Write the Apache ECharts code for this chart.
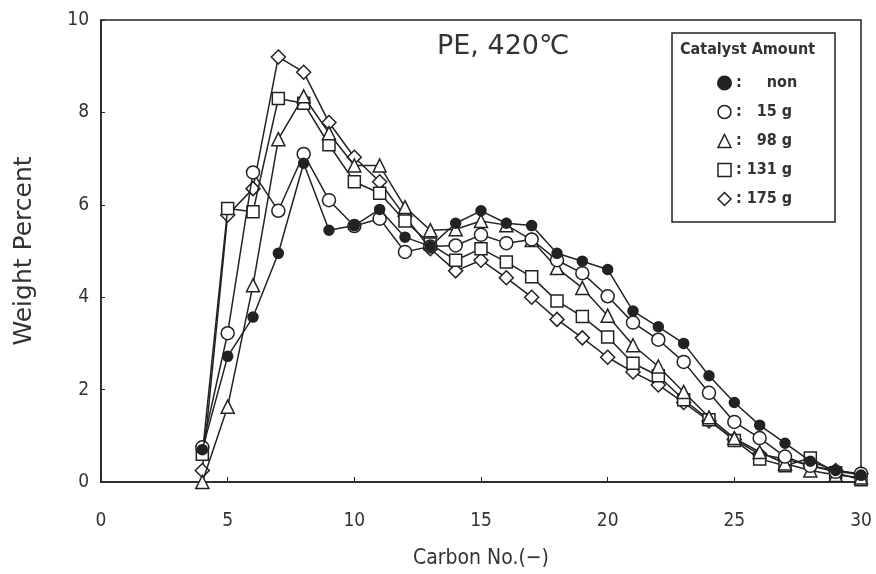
<!DOCTYPE html>
<html>
<head>
<meta charset="utf-8">
<script src="https://cdn.jsdelivr.net/npm/echarts@6/dist/echarts.min.js"></script>
<style>
html,body{margin:0;padding:0;background:#fff;}
#chart{width:876px;height:574px;}
</style>
</head>
<body>
<div id="chart"></div>
<script>
// Carbon numbers
var carbonNo = [4,5,6,7,8,9,10,11,12,13,14,15,16,17,18,19,20,21,22,23,24,25,26,27,28,29,30];
// Weight percent per catalyst amount
var wNon  = [0.70,2.72,3.57,4.95,6.90,5.45,5.55,5.90,5.30,5.10,5.60,5.87,5.60,5.55,4.95,4.78,4.60,3.70,3.36,3.00,2.30,1.72,1.23,0.84,0.45,0.25,0.15];
var w15   = [0.75,3.22,6.70,5.87,7.10,6.10,5.54,5.70,4.98,5.10,5.12,5.35,5.17,5.25,4.80,4.52,4.02,3.45,3.08,2.60,1.93,1.30,0.95,0.55,0.35,0.22,0.18];
var w98   = [0.00,1.63,4.26,7.42,8.35,7.55,6.85,6.85,5.95,5.45,5.47,5.65,5.56,5.24,4.63,4.20,3.60,2.96,2.50,1.95,1.40,0.95,0.65,0.40,0.25,0.15,0.10];
var w131  = [0.60,5.92,5.85,8.30,8.20,7.30,6.50,6.25,5.65,5.15,4.80,5.05,4.76,4.44,3.92,3.58,3.14,2.57,2.30,1.78,1.35,0.90,0.50,0.35,0.52,0.20,0.05];
var w175  = [0.25,5.78,6.35,9.20,8.87,7.78,7.03,6.50,5.75,5.05,4.57,4.80,4.42,4.00,3.52,3.12,2.70,2.38,2.10,1.72,1.32,0.92,0.60,0.50,0.35,0.25,0.18];
var seriesNames = ['non','15 g','98 g','131 g','175 g'];
var xTicks = [0,5,10,15,20,25,30];
var yTicks = [0,2,4,6,8,10];

var font = '"DejaVu Sans Condensed","Liberation Sans Narrow","Liberation Sans",sans-serif';
var font2 = '"DejaVu Sans","Liberation Sans",sans-serif';
function pairs(v){ return carbonNo.map(function(c,i){ return [c, v[i]]; }); }
function mk(name, data, symbol, filled, size, z){
  return {
    name: name, type: 'line', data: pairs(data), symbol: symbol, symbolSize: size,
    z: z, animation: false,
    lineStyle: {color: '#222', width: 1.5},
    itemStyle: {color: filled ? '#222' : '#fff', borderColor: '#222', borderWidth: 1.5}
  };
}
var chart = echarts.init(document.getElementById('chart'));
chart.setOption({
  backgroundColor: '#fff',
  animation: false,
  grid: {left: 101, right: 15, top: 20, bottom: 92, outerBoundsMode: 'none', containLabel: false,
    show: true, borderColor: '#222', borderWidth: 1.5, backgroundColor: 'transparent'},
  title: {text: 'PE, 420\u2103', left: 432, top: 28, textStyle: {fontFamily: font2, fontSize: 27, fontWeight: 'normal', color: '#333'}},
  xAxis: {
    type: 'value', min: 0, max: 30, interval: 5,
    name: 'Carbon No.(\u2212)', nameLocation: 'middle', nameGap: 66,
    nameTextStyle: {fontFamily: font, fontSize: 21, color: '#333'},
    axisLine: {lineStyle: {color: '#222', width: 1.5}},
    axisTick: {inside: true, length: 5, lineStyle: {color: '#222'}},
    axisLabel: {fontFamily: font, fontSize: 19, color: '#333', margin: 30,
      formatter: function(v){ return xTicks.indexOf(v) >= 0 ? String(v) : ''; }},
    splitLine: {show: false}
  },
  yAxis: {
    type: 'value', min: 0, max: 10, interval: 2,
    name: 'Weight Percent', nameLocation: 'middle', nameGap: 64,
    nameTextStyle: {fontFamily: font2, fontSize: 25, color: '#333'},
    axisLine: {lineStyle: {color: '#222', width: 1.5}},
    axisTick: {inside: true, length: 4, lineStyle: {color: '#222'}},
    axisLabel: {fontFamily: font, fontSize: 19, color: '#333', margin: 12,
      formatter: function(v){ return yTicks.indexOf(v) >= 0 ? String(v) : ''; }},
    splitLine: {show: false}
  },
  legend: {
    orient: 'vertical', left: 712, top: 70, itemGap: 13, itemWidth: 13, itemHeight: 13,
    data: [
      {name: seriesNames[0], icon: 'circle', itemStyle: {color: '#222', borderColor: '#222'}},
      {name: seriesNames[1], icon: 'circle', itemStyle: {color: '#fff', borderColor: '#222', borderWidth: 1.5}},
      {name: seriesNames[2], icon: 'triangle', itemStyle: {color: '#fff', borderColor: '#222', borderWidth: 1.5}},
      {name: seriesNames[3], icon: 'rect', itemStyle: {color: '#fff', borderColor: '#222', borderWidth: 1.5}},
      {name: seriesNames[4], icon: 'diamond', itemStyle: {color: '#fff', borderColor: '#222', borderWidth: 1.5}}
    ],
    formatter: function(n){ return n === 'non' ? ':     non' : (n.length === 4 ? ':   ' : ': ') + n; },
    textStyle: {fontFamily: font, fontSize: 16, color: '#333', fontWeight: 'bold'}
  },
  graphic: [
    {type: 'rect', shape: {x: 672, y: 33, width: 163, height: 189}, style: {fill: 'none', stroke: '#222', lineWidth: 1.5}, z: 1},
    {type: 'text', left: 680, top: 42, style: {text: 'Catalyst Amount', font: 'bold 16px ' + font, fill: '#333'}, z: 2}
  ],
  series: [
    mk(seriesNames[4], w175, 'diamond', false, 14, 2),
    mk(seriesNames[3], w131, 'rect', false, 12, 3),
    mk(seriesNames[2], w98, 'triangle', false, 13, 4),
    mk(seriesNames[1], w15, 'circle', false, 13, 5),
    mk(seriesNames[0], wNon, 'circle', true, 10, 6)
  ]
});
</script>
</body>
</html>
